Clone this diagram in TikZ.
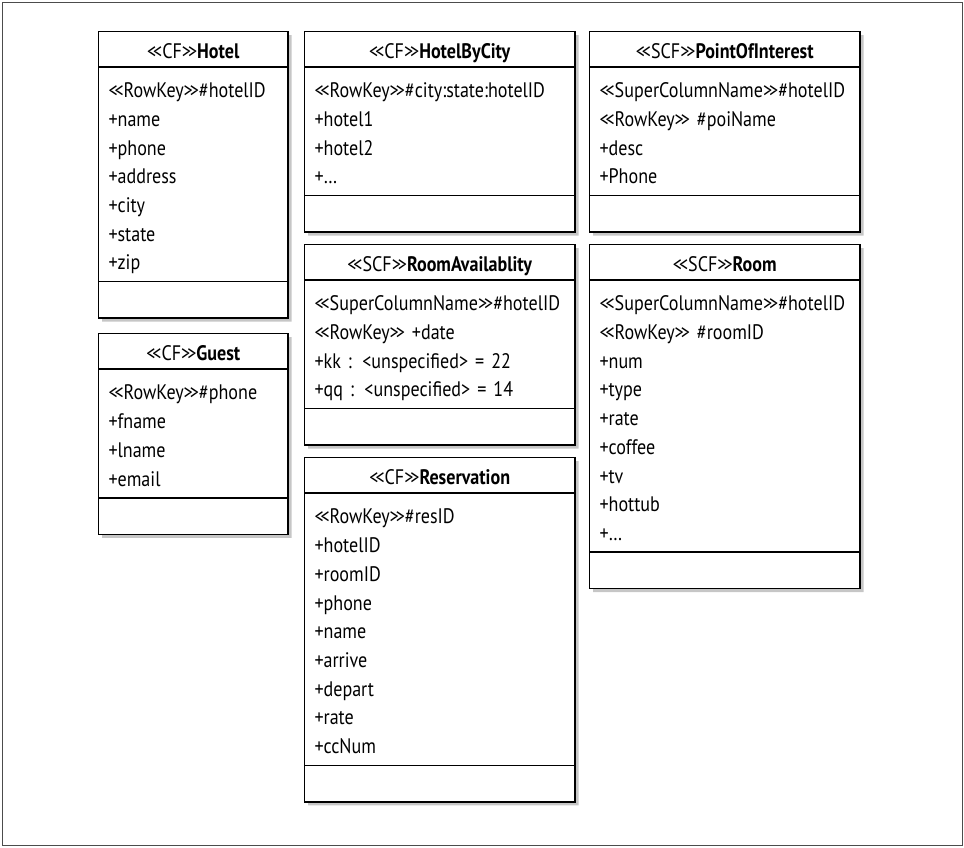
\documentclass[tikz,border=0pt]{standalone}
\usepackage{fontspec}
\setmainfont[FakeStretch=0.86]{PT Sans}
\usetikzlibrary{positioning,shapes.multipart,shadows}
\newcommand\ltlt{<\kern-3pt<}
\newcommand\gtgt{>\kern-3pt>}
\newcommand\hdr[2]{{\centering\rule[-8pt]{0pt}{34pt}\ltlt#1\gtgt\textbf{#2}\par}}
\newcommand\attrs[1]{\rule{0pt}{30pt}#1\rule[-11pt]{0pt}{11pt}}
\newcommand\emptyrow{\rule{0pt}{35pt}}
\begin{document}
\begin{tikzpicture}[x=1pt,y=-1pt,
  font=\fontsize{21}{28.7}\selectfont,
  cls/.style={rectangle split, rectangle split parts=3, draw=black, line width=1.5pt,
    fill=white, inner xsep=10pt, inner ysep=0pt, align=left, anchor=north west,
    drop shadow={shadow xshift=3.5pt, shadow yshift=-3.5pt, opacity=.45}},
  narrow/.style={cls, text width=169.5pt},
  wide/.style={cls, text width=250.5pt}]
\useasboundingbox (0,0) rectangle (964,847);
\draw[black!70, line width=1pt] (2,2) rectangle (962,845);
\node[narrow] (hotel) at (97.75,30.75) {\hdr{CF}{Hotel}
  \nodepart{two}\attrs{\ltlt RowKey\gtgt\#hotelID\\+name\\+phone\\+address\\+city\\+state\\+zip}
  \nodepart{three}\emptyrow};
\node[narrow, below right=14pt and 0pt of hotel.south west] (guest) {\hdr{CF}{Guest}
  \nodepart{two}\attrs{\ltlt RowKey\gtgt\#phone\\+fname\\+lname\\+email}
  \nodepart{three}\emptyrow};
\node[wide, below right=0pt and 15pt of hotel.north east] (hotelbycity) {\hdr{CF}{HotelByCity}
  \nodepart{two}\attrs{\ltlt RowKey\gtgt\#city:state:hotelID\\+hotel1\\+hotel2\\+\ldots}
  \nodepart{three}\emptyrow};
\node[wide, below right=11pt and 0pt of hotelbycity.south west] (roomavail) {\hdr{SCF}{RoomAvailablity}
  \nodepart{two}\attrs{\ltlt SuperColumnName\gtgt\#hotelID\\\ltlt RowKey\gtgt{} +date\\
    +kk : <unspecified> = 22\\+qq : <unspecified> = 14}
  \nodepart{three}\emptyrow};
\node[wide, below right=11pt and 0pt of roomavail.south west] (reservation) {\hdr{CF}{Reservation}
  \nodepart{two}\attrs{\ltlt RowKey\gtgt\#resID\\+hotelID\\+roomID\\+phone\\+name\\+arrive\\
    +depart\\+rate\\+ccNum}
  \nodepart{three}\emptyrow};
\node[wide, below right=0pt and 13pt of hotelbycity.north east] (poi) {\hdr{SCF}{PointOfInterest}
  \nodepart{two}\attrs{\ltlt SuperColumnName\gtgt\#hotelID\\\ltlt RowKey\gtgt{} \#poiName\\
    +desc\\+Phone}
  \nodepart{three}\emptyrow};
\node[wide, below right=11pt and 0pt of poi.south west] (room) {\hdr{SCF}{Room}
  \nodepart{two}\attrs{\ltlt SuperColumnName\gtgt\#hotelID\\\ltlt RowKey\gtgt{} \#roomID\\
    +num\\+type\\+rate\\+coffee\\+tv\\+hottub\\+\ldots}
  \nodepart{three}\emptyrow};
\end{tikzpicture}
\end{document}
